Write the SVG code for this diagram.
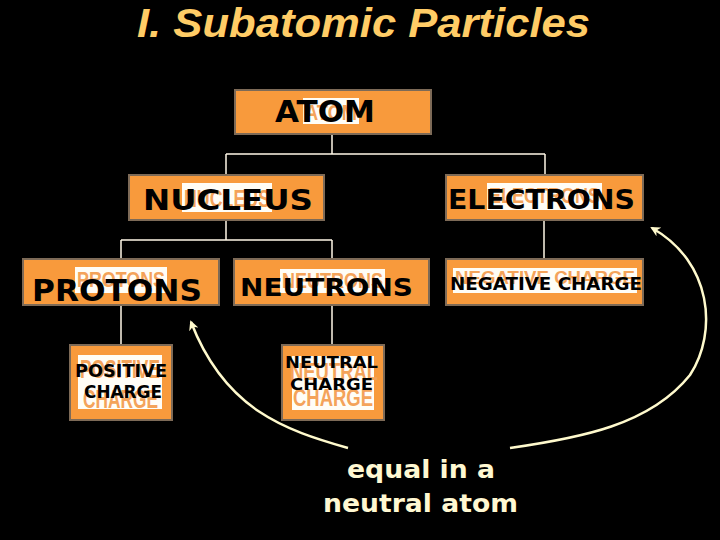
<svg xmlns="http://www.w3.org/2000/svg" width="720" height="540" viewBox="0 0 720 540">
<defs>
<style>
.box{fill:#F89A3C;stroke:#7D6A57;stroke-width:2}
.gbg{fill:#FFFDF6}
.ghost{fill:#F4A35A;font-family:"Liberation Sans Narrow","Liberation Sans",Arial,sans-serif;font-weight:bold}
.lbl{fill:#000;font-family:"DejaVu Sans","Liberation Sans",Arial,sans-serif;font-weight:bold}
.conn{stroke:#FFF8E7;stroke-width:1.5;fill:none}
.arrow{stroke:#FFFACD;stroke-width:2.5;fill:none}
.note{fill:#FFF8D2;font-family:"DejaVu Sans","Liberation Sans",Arial,sans-serif;font-weight:bold;font-size:24px}
</style>
<marker id="ah" viewBox="0 0 10 10" refX="8" refY="5" markerWidth="10" markerHeight="10" markerUnits="userSpaceOnUse" orient="auto">
<path d="M0,0 L10,5 L0,10 L3,5 Z" fill="#FFFACD"/>
</marker>
</defs>
<rect width="720" height="540" fill="#000"/>
<text x="137" y="37" textLength="453" lengthAdjust="spacingAndGlyphs" style="fill:#FFCC66;font-family:'Liberation Sans',Arial,sans-serif;font-style:italic;font-weight:bold;font-size:40px">I. Subatomic Particles</text>

<g id="connectors">
<path class="conn" d="M332,134 V154 M226,154 H545 M226,154 V175 M545,154 V175"/>
<path class="conn" d="M226,220 V240 M121,240 H332 M121,240 V259 M332,240 V259"/>
<path class="conn" d="M544,220 V259"/>
<path class="conn" d="M121,305 V345 M332,305 V345"/>
<path class="arrow" d="M348,448 C285,430 225,410 191,322" marker-end="url(#ah)"/>
<path class="arrow" d="M510,448 C580,438 650,425 690,375 C718,332 712,262 652,228" marker-end="url(#ah)"/>
</g>

<g id="atom">
<rect class="box" x="235" y="90" width="196" height="44"/>
<rect class="gbg" x="303" y="98" width="56" height="26"/>
<text class="ghost" x="305" y="120" font-size="22" textLength="52" lengthAdjust="spacingAndGlyphs">ATOM</text>
<text class="lbl" x="275" y="122" font-size="30" textLength="100" lengthAdjust="spacingAndGlyphs">ATOM</text>
</g>

<g id="nucleus">
<rect class="box" x="129" y="175" width="195" height="45"/>
<rect class="gbg" x="182" y="183" width="90" height="29"/>
<text class="ghost" x="184" y="207" font-size="24" textLength="86" lengthAdjust="spacingAndGlyphs">NUCLEUS</text>
<text class="lbl" x="143" y="210" font-size="29" textLength="170" lengthAdjust="spacingAndGlyphs">NUCLEUS</text>
</g>

<g id="electrons">
<rect class="box" x="446" y="175" width="197" height="45"/>
<rect class="gbg" x="487" y="183" width="115" height="27"/>
<text class="ghost" x="489" y="203" font-size="22" textLength="111" lengthAdjust="spacingAndGlyphs">ELECTRONS</text>
<text class="lbl" x="448" y="209" font-size="26" textLength="187" lengthAdjust="spacingAndGlyphs">ELECTRONS</text>
</g>

<g id="negative-charge">
<rect class="box" x="446" y="259" width="197" height="46"/>
<rect class="gbg" x="453" y="268" width="184" height="25"/>
<text class="ghost" x="455" y="284" font-size="19" textLength="180" lengthAdjust="spacingAndGlyphs">NEGATIVE CHARGE</text>
<text class="lbl" x="450" y="290" font-size="18" textLength="192" lengthAdjust="spacingAndGlyphs">NEGATIVE CHARGE</text>
</g>

<g id="protons">
<rect class="box" x="23" y="259" width="196" height="46"/>
<rect class="gbg" x="75" y="267" width="92" height="26"/>
<text class="ghost" x="77" y="287" font-size="22" textLength="88" lengthAdjust="spacingAndGlyphs">PROTONS</text>
<text class="lbl" x="32" y="301" font-size="30" textLength="170" lengthAdjust="spacingAndGlyphs">PROTONS</text>
</g>

<g id="neutrons">
<rect class="box" x="234" y="259" width="195" height="46"/>
<rect class="gbg" x="280" y="269" width="105" height="24"/>
<text class="ghost" x="282" y="288" font-size="22" textLength="101" lengthAdjust="spacingAndGlyphs">NEUTRONS</text>
<text class="lbl" x="240" y="296" font-size="25" textLength="173" lengthAdjust="spacingAndGlyphs">NEUTRONS</text>
</g>

<g id="positive-charge">
<rect class="box" x="70" y="345" width="102" height="75"/>
<rect class="gbg" x="78" y="355" width="84" height="54"/>
<text class="ghost" x="80" y="378" font-size="26" textLength="80" lengthAdjust="spacingAndGlyphs">POSITIVE</text>
<text class="ghost" x="83" y="408" font-size="26" textLength="75" lengthAdjust="spacingAndGlyphs">CHARGE</text>
<text class="lbl" x="75" y="377" font-size="17" textLength="92" lengthAdjust="spacingAndGlyphs">POSITIVE</text>
<text class="lbl" x="84" y="398" font-size="17" textLength="78" lengthAdjust="spacingAndGlyphs">CHARGE</text>
</g>

<g id="neutral-charge">
<rect class="box" x="282" y="345" width="102" height="75"/>
<rect class="gbg" x="292" y="356" width="82" height="54"/>
<text class="ghost" x="290" y="380" font-size="24" textLength="88" lengthAdjust="spacingAndGlyphs">NEUTRAL</text>
<text class="ghost" x="293" y="406" font-size="24" textLength="80" lengthAdjust="spacingAndGlyphs">CHARGE</text>
<text class="lbl" x="285" y="368" font-size="16" textLength="93" lengthAdjust="spacingAndGlyphs">NEUTRAL</text>
<text class="lbl" x="290" y="390" font-size="16" textLength="83" lengthAdjust="spacingAndGlyphs">CHARGE</text>
</g>

<g id="note">
<text class="note" x="347" y="478" textLength="148" lengthAdjust="spacingAndGlyphs">equal in a</text>
<text class="note" x="323" y="512" textLength="195" lengthAdjust="spacingAndGlyphs">neutral atom</text>
</g>
</svg>
